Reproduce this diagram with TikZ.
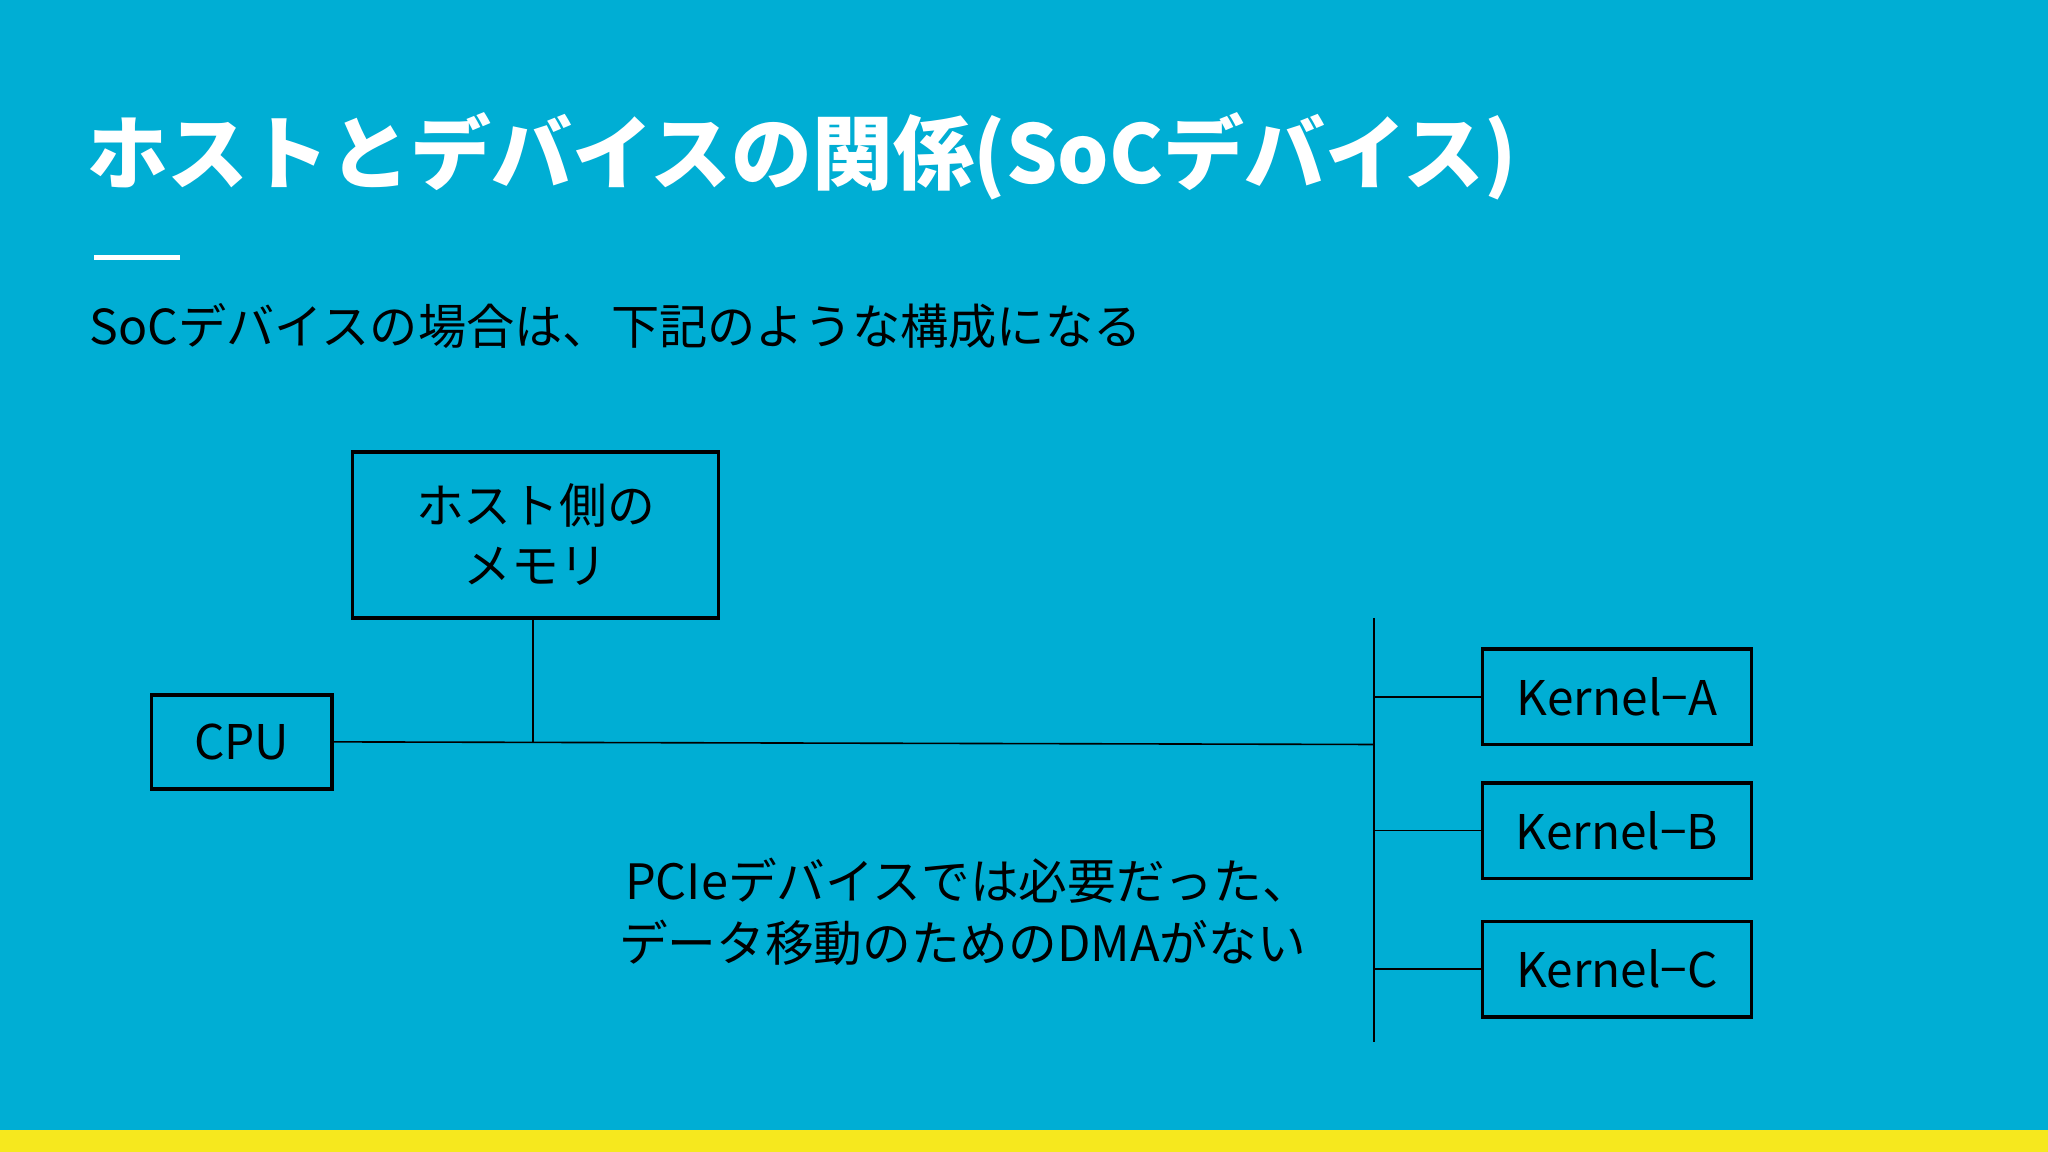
\documentclass[tikz,border=0pt]{standalone}
\usepackage{fontspec}
\setmainfont{Noto Sans CJK JP}
\definecolor{bg}{HTML}{00AED4}
\definecolor{bar}{HTML}{F6E81E}
\begin{document}
\begin{tikzpicture}[x=0.01cm,y=-0.01cm,
  box/.style={draw=black,line width=0.75pt,align=center,font=\fontsize{10.4}{14}\selectfont,inner sep=0pt},
  wire/.style={draw=black,line width=0.35pt}]
\useasboundingbox (0,0) rectangle (1568,882);
\fill[bg] (0,0) rectangle (1568,882);
\fill[bar] (0,865) rectangle (1568,882);
\node[anchor=west,text=white,font=\fontsize{17.6}{22}\selectfont\bfseries,inner sep=0pt] (title) at (66,120) {ホストとデバイスの関係(SoCデバイス)};
\draw[white,line width=1pt] (72,197) -- (138,197);
\node[anchor=west,font=\fontsize{10.5}{13}\selectfont,inner sep=0pt] (sub) at (68,250) {SoCデバイスの場合は、下記のような構成になる};
\node[box,minimum width=2.8cm,minimum height=1.27cm] (mem) at (410,409.5) {ホスト側の\\[-1pt]メモリ};
\node[box,minimum width=1.38cm,minimum height=0.72cm] (cpu) at (185,568) {CPU};
\node[box,minimum width=2.06cm,minimum height=0.73cm] (ka) at (1238,533.5) {Kernel−A};
\node[box,minimum width=2.06cm,minimum height=0.73cm] (kb) at (1238,636) {Kernel−B};
\node[box,minimum width=2.06cm,minimum height=0.73cm] (kc) at (1238,742) {Kernel−C};
\coordinate (btop) at (1052,473);
\coordinate (bbot) at (1052,798);
\coordinate (bj) at (1052,570);
\coordinate (mj) at (408,569);
\draw[wire] (btop) -- (bbot);
\draw[wire] (cpu.east) -- (bj);
\draw[wire] (mem.south -| mj) -- (mj);
\draw[wire] (ka.west) -- (ka.west -| btop);
\draw[wire] (kb.west) -- (kb.west -| btop);
\draw[wire] (kc.west) -- (kc.west -| btop);
\node[align=center,font=\fontsize{10.6}{13.5}\selectfont,inner sep=0pt] (note) at (737,698) {\ PCIeデバイスでは必要だった、\\データ移動のためのDMAがない};
\end{tikzpicture}
\end{document}
